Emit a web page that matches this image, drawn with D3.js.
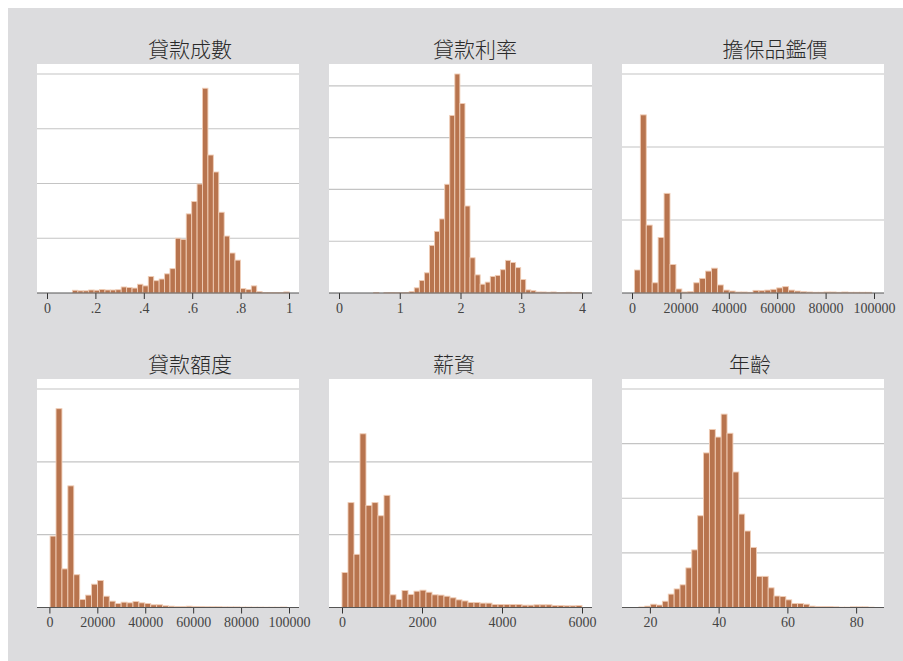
<!DOCTYPE html>
<html>
<head>
<meta charset="utf-8">
<script src="https://cdn.jsdelivr.net/npm/d3@7/dist/d3.min.js"></script>
<style>
  body { margin: 0; background: #fff; }
</style>
</head>
<body>
<div id="chart"></div>
<script>
// data (heights in gridline units)

const titles = ["貸款成數", "貸款利率", "擔保品鑑價", "貸款額度", "薪資", "年齡"];

const binStarts = [0.105, 0.572, 1000, 300, 0, 16.8];
const binWidths = [0.0224, 0.0834, 2450, 2470, 150, 1.71];

const ltvHeights = [0.05, 0.04, 0.04, 0.055, 0.05, 0.065, 0.055, 0.055, 0.06, 0.11,
  0.10, 0.09, 0.16, 0.13, 0.30, 0.225, 0.255, 0.35, 0.445, 1.0,
  0.98, 1.445, 1.67, 1.99, 3.74, 2.52, 2.21, 1.475, 1.04, 0.73,
  0.60, 0.08, 0.065, 0.13, 0.025, 0.01, 0.01, 0.01, 0.01, 0.02];

const rateHeights = [0.01, 0, 0.005, 0.01, 0.005, 0.005, 0.01, 0.03, 0.10, 0.24,
  0.39, 0.92, 1.19, 1.43, 2.10, 3.43, 4.23, 3.66, 1.68, 0.68,
  0.35, 0.17, 0.21, 0.32, 0.34, 0.45, 0.63, 0.59, 0.49, 0.26,
  0.06, 0.045, 0.02, 0.02, 0.015, 0.02, 0.01, 0.01, 0.015, 0.01, 0.01];

const collateralHeights = [0.315, 2.44, 0.93, 0.14, 0.76, 1.365, 0.39, 0.055, 0.014, 0.018,
  0.14, 0.20, 0.30, 0.34, 0.11, 0.04, 0.027, 0.014, 0.014, 0.01,
  0.036, 0.032, 0.04, 0.05, 0.07, 0.087, 0.04, 0.027, 0.018, 0.014,
  0.01, 0.01, 0.014, 0.014, 0.01, 0.014, 0.01, 0.01, 0.01, 0.01];

const amountHeights = [0.98, 2.73, 0.53, 1.67, 0.45, 0.11, 0.17, 0.32, 0.37, 0.155,
  0.087, 0.055, 0.073, 0.064, 0.082, 0.064, 0.055, 0.037, 0.037, 0.023,
  0.018, 0.014, 0.014, 0.018, 0.014, 0.012, 0.01, 0.01, 0.01, 0.008,
  0.008, 0.008, 0.006, 0.006, 0.005, 0.005, 0.004, 0.004, 0.004, 0.006];

const salaryHeights = [0.48, 1.44, 0.73, 2.385, 1.40, 1.44, 1.26, 1.54, 0.174, 0.11,
  0.233, 0.18, 0.224, 0.238, 0.21, 0.174, 0.17, 0.155, 0.133, 0.105,
  0.09, 0.069, 0.069, 0.06, 0.06, 0.041, 0.041, 0.041, 0.041, 0.041,
  0.032, 0.032, 0.037, 0.037, 0.037, 0.027, 0.027, 0.023, 0.023, 0.027];

const ageHeights = [0.01, 0.025, 0.06, 0.045, 0.115, 0.245, 0.34, 0.415, 0.725, 1.055,
  1.68, 2.83, 3.26, 3.12, 3.54, 3.19, 2.48, 1.71, 1.40, 1.10,
  0.57, 0.57, 0.36, 0.21, 0.20, 0.14, 0.073, 0.073, 0.06, 0.025,
  0.018, 0.018, 0.018, 0.012, 0.006, 0.006, 0.012, 0.012, 0.012, 0.006];

const heights = [ltvHeights, rateHeights, collateralHeights, amountHeights, salaryHeights, ageHeights];

const xDomains = [[0, 1], [0, 4], [0, 100000], [-1000, 100000], [-75, 6000], [14.8, 85.2]];
const xTicks = [
  [0, 0.2, 0.4, 0.6, 0.8, 1],
  [0, 1, 2, 3, 4],
  [0, 20000, 40000, 60000, 80000, 100000],
  [0, 20000, 40000, 60000, 80000, 100000],
  [0, 2000, 4000, 6000],
  [20, 40, 60, 80]
];
const xTickLabels = [
  ["0", ".2", ".4", ".6", ".8", "1"],
  ["0", "1", "2", "3", "4"],
  ["0", "20000", "40000", "60000", "80000", "100000"],
  ["0", "20000", "40000", "60000", "80000", "100000"],
  ["0", "2000", "4000", "6000"],
  ["20", "40", "60", "80"]
];
const yMax = [4, 4.23, 3, 3, 3, 4];
const gridVals = [[1, 2, 3, 4], [1, 2, 3, 4], [1, 2, 3], [1, 2, 3], [1, 2], [1, 2, 3, 4]];

// layout

const W = 903, H = 661;
const colLeft = [37, 329, 622];
const colRight = [299, 592, 884];
const rowTop = [64, 379];
const rowBase = [293, 607.5];
const titleX = [190, 475, 775, 190, 454, 750];
const inset = 10;

const svg = d3.select("#chart")
  .append("svg")
    .attr("width", W)
    .attr("height", H);

svg.append("rect")
  .attr("x", 8).attr("y", 8)
  .attr("width", W - 8).attr("height", H - 8)
  .attr("fill", "#dcdcde");

titles.forEach((t, k) => {
  const c = k % 3, r = Math.floor(k / 3);
  const x0 = colLeft[c], x1 = colRight[c];
  const top = rowTop[r], base = rowBase[r];

  const x = d3.scaleLinear()
    .domain(xDomains[k])
    .range([x0 + inset, x1 - inset]);
  const y = d3.scaleLinear()
    .domain([0, yMax[k]])
    .range([base, top + inset]);

  const g = svg.append("g");

  // white plot region
  g.append("rect")
    .attr("x", x0).attr("y", top)
    .attr("width", x1 - x0).attr("height", base - top)
    .attr("fill", "#fff");

  // gridlines
  g.selectAll(".grid")
    .data(gridVals[k])
    .join("line")
    .attr("x1", x0).attr("x2", x1)
    .attr("y1", d => y(d)).attr("y2", d => y(d))
    .attr("stroke", "#c4c4c4")
    .attr("stroke-width", 1.2);

  // bars
  const bins = heights[k].map((h, i) => ({
    a: binStarts[k] + i * binWidths[k],
    b: binStarts[k] + (i + 1) * binWidths[k],
    h: h
  })).filter(d => d.h > 0);

  g.selectAll(".bar")
    .data(bins)
    .join("rect")
    .attr("x", d => x(d.a))
    .attr("width", d => x(d.b) - x(d.a))
    .attr("y", d => y(d.h))
    .attr("height", d => base - y(d.h))
    .attr("fill", "#b8744e")
    .attr("stroke", "#f0cdb6")
    .attr("stroke-width", 0.9);

  // x axis
  const ax = g.append("g")
    .attr("transform", `translate(0,${base})`)
    .call(d3.axisBottom(x)
      .tickValues(xTicks[k])
      .tickFormat((d, i) => xTickLabels[k][i])
      .tickSize(6)
      .tickSizeOuter(0)
      .tickPadding(4));
  ax.select(".domain").remove();
  ax.selectAll(".tick line").attr("stroke", "#333");
  ax.selectAll(".tick text")
    .style("font-family", "'Liberation Serif', serif")
    .style("font-size", "14px")
    .attr("fill", "#444");

  g.append("line")
    .attr("x1", x0).attr("x2", x1)
    .attr("y1", base).attr("y2", base)
    .attr("stroke", "#555")
    .attr("stroke-width", 1.2);

  // title
  svg.append("text")
    .attr("x", titleX[k])
    .attr("y", top - 7)
    .attr("text-anchor", "middle")
    .style("font-family", "'Noto Sans CJK TC', sans-serif")
    .style("font-size", "21px")
    .style("font-weight", "300")
    .attr("fill", "#2a2a2a")
    .text(t);
});
</script>
</body>
</html>
